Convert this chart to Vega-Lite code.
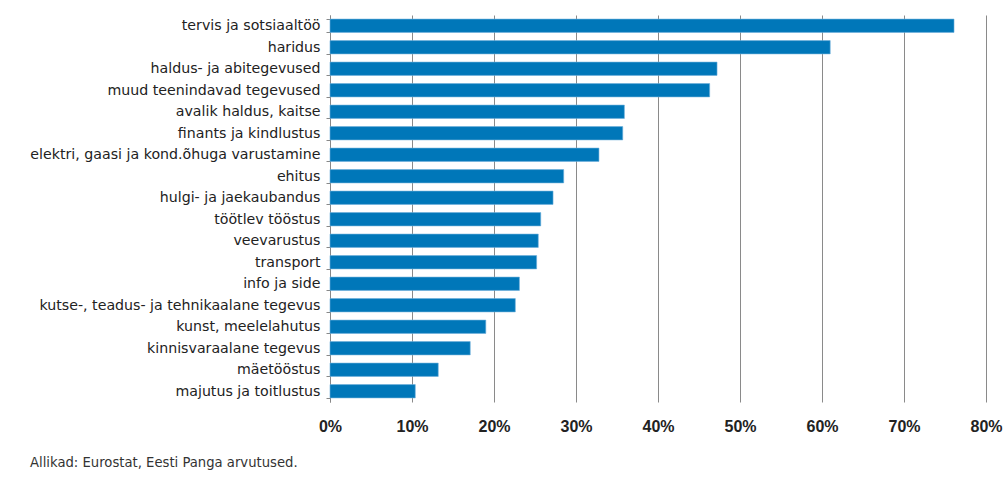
{
  "$schema": "https://vega.github.io/schema/vega-lite/v6.json",
  "width": 656,
  "height": 387,
  "autosize": {"type": "none"},
  "padding": {"left": 330, "top": 15, "right": 20, "bottom": 80},
  "background": "white",
  "config": {
    "font": "Liberation Sans",
    "view": {"stroke": null}
  },
  "title": {
    "text": "Allikad: Eurostat, Eesti Panga arvutused.",
    "orient": "bottom",
    "anchor": "start",
    "frame": "group",
    "dx": -300,
    "offset": 23,
    "fontSize": 13.2,
    "fontWeight": "normal",
    "color": "#333333",
    "font": "DejaVu Sans"
  },
  "data": {
    "values": [
      {"sektor": "tervis ja sotsiaaltöö", "osakaal": 0.761},
      {"sektor": "haridus", "osakaal": 0.610},
      {"sektor": "haldus- ja abitegevused", "osakaal": 0.472},
      {"sektor": "muud teenindavad tegevused", "osakaal": 0.463},
      {"sektor": "avalik haldus, kaitse", "osakaal": 0.359},
      {"sektor": "finants ja kindlustus", "osakaal": 0.357},
      {"sektor": "elektri, gaasi ja kond.õhuga varustamine", "osakaal": 0.328},
      {"sektor": "ehitus", "osakaal": 0.285},
      {"sektor": "hulgi- ja jaekaubandus", "osakaal": 0.272},
      {"sektor": "töötlev tööstus", "osakaal": 0.257},
      {"sektor": "veevarustus", "osakaal": 0.254},
      {"sektor": "transport", "osakaal": 0.252},
      {"sektor": "info ja side", "osakaal": 0.231},
      {"sektor": "kutse-, teadus- ja tehnikaalane tegevus", "osakaal": 0.226},
      {"sektor": "kunst, meelelahutus", "osakaal": 0.190},
      {"sektor": "kinnisvaraalane tegevus", "osakaal": 0.171},
      {"sektor": "mäetööstus", "osakaal": 0.132},
      {"sektor": "majutus ja toitlustus", "osakaal": 0.104}
    ]
  },
  "mark": {"type": "bar", "color": "#0077b9", "stroke": "#6fb0dc", "strokeWidth": 0.6},
  "encoding": {
    "y": {
      "field": "sektor",
      "type": "nominal",
      "sort": null,
      "scale": {"paddingInner": 0.38, "paddingOuter": 0.19},
      "axis": {
        "title": null,
        "domain": true,
        "domainColor": "#888888",
        "ticks": true,
        "tickBand": "extent",
        "tickColor": "#888888",
        "tickSize": 4,
        "labelPadding": 6,
        "labelLimit": 400,
        "labelFontSize": 14.2,
        "labelColor": "#222222",
        "labelFont": "DejaVu Sans",
        "grid": false
      }
    },
    "x": {
      "field": "osakaal",
      "type": "quantitative",
      "scale": {"domain": [0, 0.8], "nice": false},
      "axis": {
        "title": null,
        "format": ".0%",
        "values": [0, 0.1, 0.2, 0.3, 0.4, 0.5, 0.6, 0.7, 0.8],
        "domain": false,
        "ticks": false,
        "grid": true,
        "gridColor": "#8a8a8a",
        "gridWidth": 1,
        "labelFlush": false,
        "labelPadding": 16,
        "labelFontSize": 16,
        "labelFontWeight": "bold",
        "labelColor": "#222222",
        "labelFont": "Liberation Sans"
      }
    }
  }
}
